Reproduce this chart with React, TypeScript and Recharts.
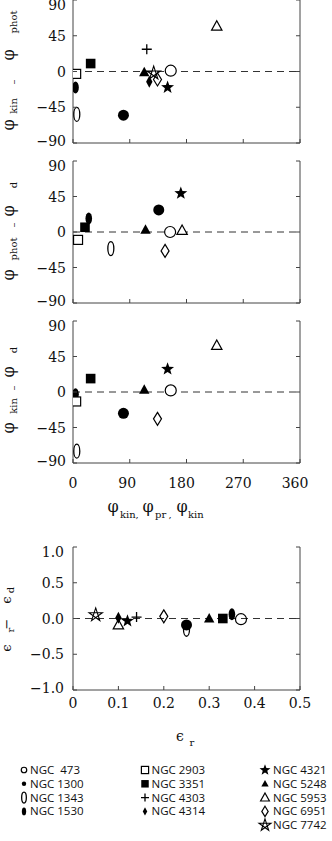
import React from 'react';
import { ScatterChart, Scatter, XAxis, YAxis, ReferenceLine } from 'recharts';

// ---------- data ----------
const galaxies = ['NGC 473', 'NGC 1300', 'NGC 1343', 'NGC 1530', 'NGC 2903', 'NGC 3351', 'NGC 4303', 'NGC 4314', 'NGC 4321', 'NGC 5248', 'NGC 5953', 'NGC 6951', 'NGC 7742'];
const legendLabels = ['NGC  473', 'NGC 1300', 'NGC 1343', 'NGC 1530', 'NGC 2903', 'NGC 3351', 'NGC 4303', 'NGC 4314', 'NGC 4321', 'NGC 5248', 'NGC 5953', 'NGC 6951', 'NGC 7742'];
const symbols = ['circleOpen', 'circleFilled', 'ellipseOpen', 'ellipseFilled', 'squareOpen', 'squareFilled', 'plus', 'diamondFilled', 'starFilled', 'triangleFilled', 'triangleOpen', 'diamondOpen', 'starOpen'];
const legendColumn = [0, 0, 0, 0, 1, 1, 1, 1, 2, 2, 2, 2, 2];

const phiKin: (number | null)[] = [155, 80, 6, 4, 5, 28, 117, 121, 150, 113, 228, 134, 128];
const dPhiKinPhot: (number | null)[] = [1, -55, -54, -20, -3, 10, 28, -13, -20, -1, 57, -10, -2];
const phiPr: (number | null)[] = [154, 136, 60, 25, 8, 19, null, null, 171, 115, 173, 146, null];
const dPhiPhotD: (number | null)[] = [0, 28, -21, 17, -10, 6, null, null, 49, 3, 2, -24, null];
const dPhiKinD: (number | null)[] = [2, -27, -75, -3, -12, 17, null, null, 29, 3, 59, -34, null];
const epsR: (number | null)[] = [0.37, 0.25, 0.25, 0.35, null, 0.33, 0.14, 0.10, 0.12, 0.30, 0.10, 0.20, 0.05];
const dEps: (number | null)[] = [-0.01, -0.09, -0.15, 0.06, null, 0.0, 0.02, 0.01, -0.035, 0.0, -0.09, 0.03, 0.05];

const angleTicks = [-90, -45, 0, 45, 90];
const phiTicks = [0, 90, 180, 270, 360];
const epsYTicks = [-1, -0.5, 0, 0.5, 1];
const epsXTicks = [0, 0.1, 0.2, 0.3, 0.4, 0.5];

// ---------- style ----------
const AX = '#444';
const TXT = '#111';
const SERIF = '"DejaVu Serif", "Liberation Serif", serif';
const SANS = '"Open Sans", "Noto Sans", sans-serif';

const fmtInt = (v: number) => (v < 0 ? '\u2212' + Math.abs(v) : String(v));
const fmtEpsY = (v: number) => (v < 0 ? '\u2212' + Math.abs(v).toFixed(1) : v.toFixed(1));
const fmtEpsX = (v: number) => (v === 0 ? '0' : v.toFixed(1));

// ---------- markers ----------
function Marker({ kind, cx, cy, s = 1, hollow = '#fff' }: any) {
  const k = '#000';
  const sw = 1.2;
  switch (kind) {
    case 'circleOpen':
      return <circle cx={cx} cy={cy} r={5.5 * s} fill={hollow} stroke={k} strokeWidth={sw} />;
    case 'circleFilled':
      return <circle cx={cx} cy={cy} r={5.5 * s} fill={k} />;
    case 'ellipseOpen':
      return <ellipse cx={cx} cy={cy} rx={3 * s} ry={7 * s} fill={hollow} stroke={k} strokeWidth={1.3} />;
    case 'ellipseFilled':
      return <ellipse cx={cx} cy={cy} rx={3.3 * s} ry={6 * s} fill={k} />;
    case 'squareOpen':
      return <rect x={cx - 4.5 * s} y={cy - 4.5 * s} width={9 * s} height={9 * s} fill={hollow} stroke={k} strokeWidth={sw} />;
    case 'squareFilled':
      return <rect x={cx - 4.8 * s} y={cy - 4.8 * s} width={9.6 * s} height={9.6 * s} fill={k} />;
    case 'plus':
      return <path d={`M${cx - 5 * s},${cy}H${cx + 5 * s}M${cx},${cy - 5 * s}V${cy + 5 * s}`} stroke={k} strokeWidth={1.3} fill="none" />;
    case 'diamondFilled':
      return <polygon points={`${cx},${cy - 6 * s} ${cx + 3.2 * s},${cy} ${cx},${cy + 6 * s} ${cx - 3.2 * s},${cy}`} fill={k} />;
    case 'diamondOpen':
      return <polygon points={`${cx},${cy - 6.5 * s} ${cx + 4 * s},${cy} ${cx},${cy + 6.5 * s} ${cx - 4 * s},${cy}`} fill={hollow} stroke={k} strokeWidth={sw} />;
    case 'triangleFilled':
      return <polygon points={`${cx},${cy - 5.5 * s} ${cx + 5.2 * s},${cy + 4 * s} ${cx - 5.2 * s},${cy + 4 * s}`} fill={k} />;
    case 'triangleOpen':
      return <polygon points={`${cx},${cy - 5.5 * s} ${cx + 5.2 * s},${cy + 4 * s} ${cx - 5.2 * s},${cy + 4 * s}`} fill={hollow} stroke={k} strokeWidth={sw} />;
    case 'starFilled': {
      const pts: string[] = [];
      for (let i = 0; i < 10; i++) {
        const r = (i % 2 === 0 ? 6.8 : 2.8) * s;
        const a = -Math.PI / 2 + (i * Math.PI) / 5;
        pts.push(`${cx + r * Math.cos(a)},${cy + r * Math.sin(a)}`);
      }
      return <polygon points={pts.join(' ')} fill={k} />;
    }
    case 'starOpen': {
      const v: number[][] = [];
      for (let i = 0; i < 5; i++) {
        const a = -Math.PI / 2 + (i * 2 * Math.PI) / 5;
        v.push([cx + 7 * s * Math.cos(a), cy + 7 * s * Math.sin(a)]);
      }
      const order = [0, 2, 4, 1, 3];
      const d = order.map((o, i) => `${i === 0 ? 'M' : 'L'}${v[o][0]},${v[o][1]}`).join('') + 'Z';
      return <path d={d} fill="none" stroke={k} strokeWidth={1.1} strokeLinejoin="miter" />;
    }
    default:
      return null;
  }
}

// ---------- ticks ----------
const LeftTick = (p: any) => {
  const { x, y, payload, fmt, gap, maxV, minV } = p;
  const v = payload.value;
  const dy = v === maxV ? 5 : v === minV ? -2 : 0;
  return (
    <g>
      <line x1={x} x2={x + 4} y1={y} y2={y} stroke={AX} />
      <text x={x - gap} y={y + dy} dy="0.36em" textAnchor="end" fontFamily={SERIF} fontSize={14} fill={TXT}>
        {fmt(v)}
      </text>
    </g>
  );
};
const RightTick = (p: any) => <line x1={p.x - 4} x2={p.x} y1={p.y} y2={p.y} stroke={AX} />;
const TopTick = (p: any) => <line x1={p.x} x2={p.x} y1={p.y} y2={p.y + 4} stroke={AX} />;
const BottomTick = (p: any) => {
  const { x, y, payload, fmt, labelGap, shiftLong } = p;
  const label = fmt ? fmt(payload.value) : null;
  const dx = shiftLong && label ? -(label.length - 1) * 2.5 : 0;
  return (
    <g>
      <line x1={x} x2={x} y1={y - 4} y2={y} stroke={AX} />
      {label ? (
        <text x={x + dx} y={y + labelGap} dy="0.36em" textAnchor="middle" fontFamily={SERIF} fontSize={14} fill={TXT}>
          {label}
        </text>
      ) : null}
    </g>
  );
};

function Panel({ top, marginTop, plotH, bottomH, xDomain, xTicks, yDomain, yTicks, xFmt, yFmt, labelGap, yGap, xs, ys, hollow, shiftLong }: any) {
  const height = marginTop + plotH + bottomH;
  return (
    <div style={{ position: 'absolute', left: 0, top }}>
      <ScatterChart width={332} height={height} margin={{ top: marginTop, right: 0, bottom: 0, left: 0 }}>
        <XAxis
          xAxisId={0} type="number" dataKey="x" domain={xDomain} ticks={xTicks} interval={0}
          height={bottomH} tickSize={0} tickMargin={0} tickLine={false} axisLine={{ stroke: AX }}
          allowDataOverflow
          tick={(p: any) => <BottomTick {...p} fmt={xFmt} labelGap={labelGap} shiftLong={shiftLong} />}
        />
        <XAxis
          xAxisId="t" orientation="top" type="number" domain={xDomain} ticks={xTicks} interval={0}
          height={0} tickSize={0} tickMargin={0} tickLine={false} axisLine={{ stroke: AX }}
          allowDataOverflow tick={(p: any) => <TopTick {...p} />}
        />
        <YAxis
          yAxisId={0} type="number" dataKey="y" domain={yDomain} ticks={yTicks} interval={0}
          width={73} tickSize={0} tickMargin={0} tickLine={false} axisLine={{ stroke: AX }}
          allowDataOverflow
          tick={(p: any) => <LeftTick {...p} fmt={yFmt} gap={yGap} maxV={yDomain[1]} minV={yDomain[0]} />}
        />
        <YAxis
          yAxisId="r" orientation="right" type="number" domain={yDomain} ticks={yTicks} interval={0}
          width={32} tickSize={0} tickMargin={0} tickLine={false} axisLine={{ stroke: AX }}
          allowDataOverflow tick={(p: any) => <RightTick {...p} />}
        />
        <ReferenceLine y={0} xAxisId={0} yAxisId={0} stroke="#333" strokeDasharray="7 5" strokeWidth={1} />
        {galaxies.map((g, i) =>
          xs[i] == null || ys[i] == null ? null : (
            <Scatter
              key={g}
              name={g}
              xAxisId={0}
              yAxisId={0}
              data={[{ x: xs[i], y: ys[i] }]}
              isAnimationActive={false}
              shape={(p: any) => <Marker kind={symbols[i]} cx={p.cx} cy={p.cy} hollow={hollow} />}
            />
          )
        )}
      </ScatterChart>
    </div>
  );
}

const RT = ({ x, y, size, children }: any) => (
  <text transform={`rotate(-90 ${x} ${y})`} x={x} y={y} textAnchor="middle" fontFamily={SERIF} fontSize={size} fill={TXT}>
    {children}
  </text>
);

const T = ({ x, y, size, anchor = 'middle', children }: any) => (
  <text x={x} y={y} textAnchor={anchor} fontFamily={SERIF} fontSize={size} fill={TXT}>
    {children}
  </text>
);

const legendMarkScale: Record<string, number> = {
  circleOpen: 0.5, circleFilled: 0.4, ellipseOpen: 0.78, ellipseFilled: 0.65, squareOpen: 0.8, squareFilled: 0.78,
  plus: 0.8, diamondFilled: 0.7, starFilled: 0.85, triangleFilled: 0.7, triangleOpen: 0.85, diamondOpen: 0.8, starOpen: 0.9,
};
const colMarkX = [24, 145, 265];
const colTextX = [30, 151.5, 273];

export default function App() {
  const rowIdx: number[] = [];
  const counters = [0, 0, 0];
  legendColumn.forEach((c) => { rowIdx.push(counters[c]); counters[c] += 1; });

  return (
    <div style={{ position: 'absolute', left: 0, top: 0, width: 332, height: 841, background: '#fff' }}>
      <Panel top={0} marginTop={0} plotH={143} bottomH={9} xDomain={[0, 360]} xTicks={phiTicks} yDomain={[-90, 90]} yTicks={angleTicks}
        xFmt={null} yFmt={fmtInt} labelGap={0} yGap={7} xs={phiKin} ys={dPhiKinPhot} hollow="#fff" />
      <Panel top={152} marginTop={9} plotH={142} bottomH={8} xDomain={[0, 360]} xTicks={phiTicks} yDomain={[-90, 90]} yTicks={angleTicks}
        xFmt={null} yFmt={fmtInt} labelGap={0} yGap={7} xs={phiPr} ys={dPhiPhotD} hollow="#fff" />
      <Panel top={311} marginTop={10} plotH={142} bottomH={30} xDomain={[0, 360]} xTicks={phiTicks} yDomain={[-90, 90]} yTicks={angleTicks}
        xFmt={fmtInt} yFmt={fmtInt} labelGap={20} yGap={7} xs={phiKin} ys={dPhiKinD} hollow="#fff" shiftLong />
      <Panel top={530} marginTop={17} plotH={143} bottomH={25} xDomain={[0, 0.5]} xTicks={epsXTicks} yDomain={[-1, 1]} yTicks={epsYTicks}
        xFmt={fmtEpsX} yFmt={fmtEpsY} labelGap={13} yGap={9} xs={epsR} ys={dEps} hollow="none" />

      <svg width={332} height={841} style={{ position: 'absolute', left: 0, top: 0, pointerEvents: 'none' }}>
        {/* panel 1 y label */}
        <RT x={14} y={125} size={16}>φ</RT>
        <RT x={17} y={106} size={10}>kin</RT>
        <RT x={17} y={82} size={10}>–</RT>
        <RT x={14} y={55} size={16}>φ</RT>
        <RT x={17} y={22} size={10}>phot</RT>
        {/* panel 2 y label */}
        <RT x={14} y={275} size={16}>φ</RT>
        <RT x={17} y={249} size={10}>phot</RT>
        <RT x={17} y={225} size={10}>–</RT>
        <RT x={14} y={211} size={16}>φ</RT>
        <RT x={17} y={185} size={10}>d</RT>
        {/* panel 3 y label */}
        <RT x={14} y={428} size={16}>φ</RT>
        <RT x={17} y={406} size={10}>kin</RT>
        <RT x={17} y={388} size={10}>–</RT>
        <RT x={14} y={372} size={16}>φ</RT>
        <RT x={17} y={350} size={10}>d</RT>
        {/* panel 4 y label */}
        <RT x={10.5} y={648} size={13}>ϵ</RT>
        <RT x={14} y={630} size={10}>r</RT>
        <RT x={10.5} y={624} size={13}>−</RT>
        <RT x={10.5} y={600} size={13}>ϵ</RT>
        <RT x={14} y={590} size={10}>d</RT>

        {/* panel 3 x label */}
        <T x={113} y={512} size={16}>φ</T>
        <T x={120} y={518} size={10} anchor="start">kin</T>
        <T x={137} y={518} size={10}>,</T>
        <T x={148} y={512} size={16}>φ</T>
        <T x={155} y={518} size={10} anchor="start">pr</T>
        <T x={170} y={518} size={10}>,</T>
        <T x={182} y={512} size={16}>φ</T>
        <T x={188} y={518} size={10} anchor="start">kin</T>

        {/* panel 4 x label */}
        <T x={180} y={741} size={14}>ϵ</T>
        <T x={192} y={746} size={10}>r</T>

        {/* legend */}
        {galaxies.map((g, i) => {
          const c = legendColumn[i];
          const cy = 770 + rowIdx[i] * 13.8;
          return (
            <g key={g}>
              <Marker kind={symbols[i]} cx={colMarkX[c]} cy={cy} s={legendMarkScale[symbols[i]]} hollow="#fff" />
              <text x={colTextX[c]} y={cy + 4} fontFamily={SANS} fontSize={11.5} fill={TXT} style={{ whiteSpace: 'pre' }}>
                {legendLabels[i]}
              </text>
            </g>
          );
        })}
      </svg>
    </div>
  );
}
